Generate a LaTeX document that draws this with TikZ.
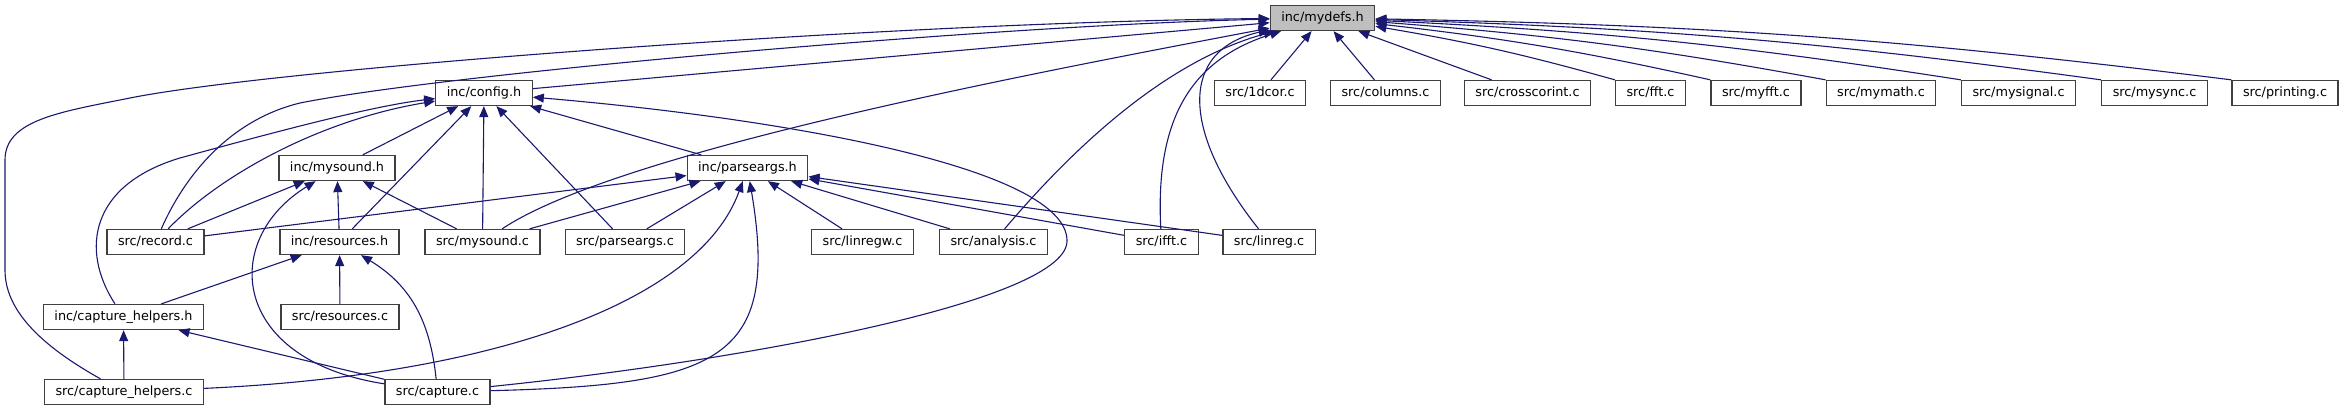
\documentclass[tikz,border=0pt]{standalone}
\usepackage{fontspec}
\setmainfont{DejaVu Sans}
\usetikzlibrary{arrows.meta}
\definecolor{edgeblue}{RGB}{25,25,112}
\tikzset{
    file/.style = {draw = black!75, line width = 1.3pt, fill = white, inner xsep = 11pt, inner ysep = 0pt,
        minimum height = 25pt, text height = 9.5pt, text depth = 2.7pt, font = \fontsize{12.8}{15}\selectfont},
    dep/.style = {draw = edgeblue, line width = 1.1pt, -{Triangle[length = 11pt, width = 9pt]}},
}
\begin{document}
\begin{tikzpicture}[x = 1pt, y = -1pt]
    \useasboundingbox (0, 0) rectangle (2344, 411);

    \node [file, fill = gray!50] (mydefs) at (1322.5, 18) {inc/mydefs.h};

    \node [file] (config) at (484, 93) {inc/config.h};
    \node [file] (dcor) at (1260, 93) {src/1dcor.c};
    \node [file] (columns) at (1385.5, 93) {src/columns.c};
    \node [file] (crosscorint) at (1527.5, 93) {src/crosscorint.c};
    \node [file] (fft) at (1650.5, 93) {src/fft.c};
    \node [file] (myfft) at (1756, 93) {src/myfft.c};
    \node [file] (mymath) at (1881, 93) {src/mymath.c};
    \node [file] (mysignal) at (2018.5, 93) {src/mysignal.c};
    \node [file] (mysync) at (2154.5, 93) {src/mysync.c};
    \node [file] (printing) at (2285, 93) {src/printing.c};

    \node [file] (mysoundh) at (337, 168) {inc/mysound.h};
    \node [file] (parseh) at (747.5, 168) {inc/parseargs.h};

    \node [file] (record) at (155.5, 242) {src/record.c};
    \node [file] (resh) at (339.5, 242) {inc/resources.h};
    \node [file] (mysoundc) at (482.5, 242) {src/mysound.c};
    \node [file] (parsec) at (625, 242) {src/parseargs.c};
    \node [file] (linregw) at (862.5, 242) {src/linregw.c};
    \node [file] (analysis) at (993.5, 242) {src/analysis.c};
    \node [file] (ifft) at (1161.5, 242) {src/ifft.c};
    \node [file] (linreg) at (1269, 242) {src/linreg.c};

    \node [file] (caph) at (123.5, 317) {inc/capture\_helpers.h};
    \node [file] (resc) at (340, 317) {src/resources.c};

    \node [file] (capc) at (124, 392) {src/capture\_helpers.c};
    \node [file] (capture) at (437.5, 392) {src/capture.c};

    \path [every edge/.style = dep]
        (config) edge (mydefs)
        (dcor) edge (mydefs)
        (columns) edge (mydefs)
        (crosscorint) edge (mydefs)
        (fft.north west) edge [bend right = 3] (mydefs)
        (myfft.north west) edge [bend right = 3] (mydefs)
        (mymath.north west) edge [bend right = 3] (mydefs)
        (mysignal.north west) edge [bend right = 3] (mydefs)
        (mysync.north west) edge [bend right = 3] (mydefs)
        (printing.north west) edge [bend right = 3] (mydefs)

        (mysoundh) edge (config)
        (resh) edge (config)
        (mysoundc) edge (config)
        (parsec) edge (config)
        (parseh) edge (config)

        (record) edge (mysoundh)
        (resh) edge (mysoundh)
        (mysoundc) edge (mysoundh)

        (record) edge (parseh)
        (mysoundc) edge (parseh)
        (parsec) edge (parseh)
        (linregw) edge (parseh)
        (analysis) edge (parseh)
        (ifft) edge (parseh)
        (linreg) edge (parseh)

        (caph) edge (resh)
        (resc) edge (resh)

        (capc) edge (caph)
        (capture) edge (caph)
    ;

    \draw [dep] (capc) .. controls (40, 345) and (5, 310) .. (5, 270) -- (5, 160)
        .. controls (5, 120) and (60, 112) .. (130, 98) .. controls (280, 68) and (900, 22) .. (mydefs);
    \draw [dep] (record) .. controls (185, 175) and (230, 120) .. (300, 103)
        .. controls (450, 73) and (1000, 25) .. (mydefs);
    \draw [dep] (mysoundc) .. controls (620, 150) and (1050, 70) .. (mydefs);
    \draw [dep] (analysis) .. controls (1080, 140) and (1170, 60) .. (mydefs);
    \draw [dep] (ifft) .. controls (1155, 120) and (1190, 60) .. (mydefs);
    \draw [dep] (linreg) .. controls (1180, 130) and (1180, 50) .. (mydefs);

    \draw [dep] (caph) .. controls (80, 250) and (90, 185) .. (180, 158)
        .. controls (300, 125) and (380, 105) .. (config);
    \draw [dep] (record) .. controls (220, 175) and (320, 120) .. (config);
    \draw [dep] (capture) .. controls (750, 360) and (1070, 300) .. (1067, 240)
        .. controls (1065, 170) and (800, 120) .. (config);

    \draw [dep] (capture) .. controls (230, 360) and (220, 240) .. (mysoundh);
    \draw [dep] (capc) .. controls (500, 375) and (700, 300) .. (parseh);
    \draw [dep] (capture) .. controls (720, 385) and (780, 360) .. (parseh);
    \draw [dep] (capture) .. controls (430, 320) and (410, 285) .. (resh);
\end{tikzpicture}
\end{document}
